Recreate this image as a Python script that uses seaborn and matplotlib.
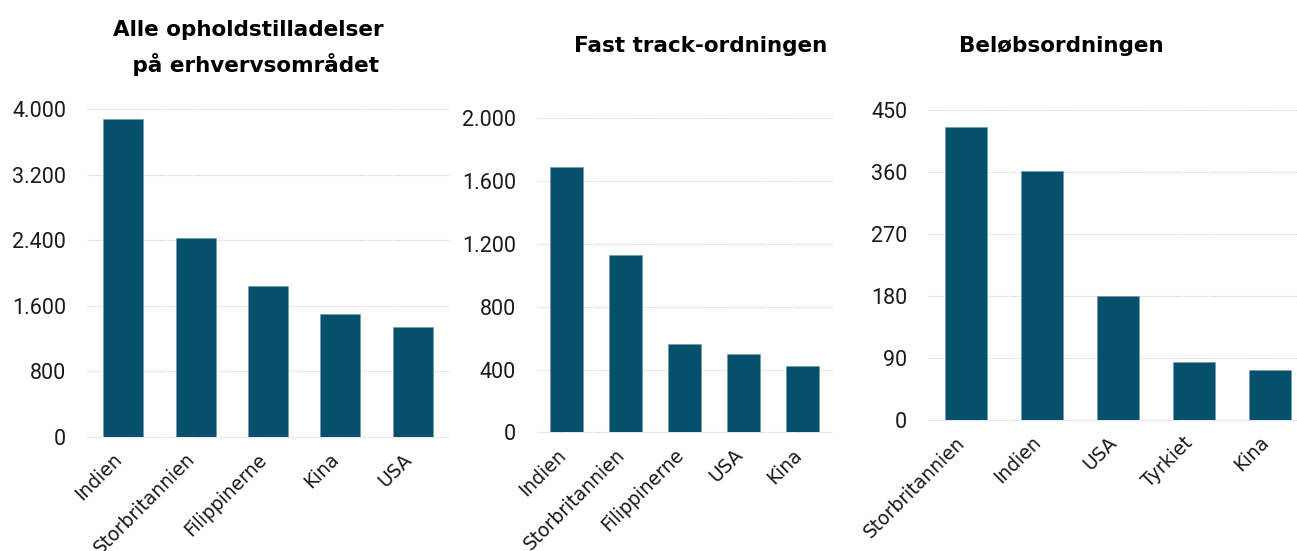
import matplotlib
matplotlib.use('Agg')
import matplotlib.pyplot as plt
import seaborn as sns
import pandas as pd
from matplotlib.ticker import FuncFormatter

# data
alle_lande = ['Indien', 'Storbritannien', 'Filippinerne', 'Kina', 'USA']
alle_vaerdi = [3885, 2430, 1840, 1505, 1335]

fast_lande = ['Indien', 'Storbritannien', 'Filippinerne', 'USA', 'Kina']
fast_vaerdi = [1690, 1127, 564, 499, 422]

beloeb_lande = ['Storbritannien', 'Indien', 'USA', 'Tyrkiet', 'Kina']
beloeb_vaerdi = [426, 362, 180, 84, 72]

titler = ['Alle opholdstilladelser', ' på erhvervsområdet',
          'Fast track-ordningen', 'Beløbsordningen']
yticks = [[0, 800, 1600, 2400, 3200, 4000],
          [0, 400, 800, 1200, 1600, 2000],
          [0, 90, 180, 270, 360, 450]]

sns.set_theme(style='white')
plt.rcParams['font.family'] = ['DejaVu Sans']

farve = '#07506b'
W, H = 1297, 551
fig = plt.figure(figsize=(W / 100, H / 100), dpi=100)

# axes boxes in pixels: left, right, bottom(y=0), top(y=max)
boxes = [(87, 449, 436.7, 109.3),
         (537, 832, 432.3, 118.3),
         (928, 1308, 420.0, 110.3)]
data = [(alle_lande, alle_vaerdi), (fast_lande, fast_vaerdi), (beloeb_lande, beloeb_vaerdi)]

dk = FuncFormatter(lambda v, p: f'{int(v):,}'.replace(',', '.'))

for (l, r, b, t), (lande, vaerdi), ticks in zip(boxes, data, yticks):
    ax = fig.add_axes([l / W, 1 - b / H, (r - l) / W, (b - t) / H])
    df = pd.DataFrame({'land': lande, 'antal': vaerdi})
    sns.barplot(data=df, x='land', y='antal', color=farve, saturation=1,
                width=0.55, edgecolor='#6d98a8', linewidth=0.4, ax=ax, zorder=3)
    ax.set_ylim(0, ticks[-1])
    ax.set_xlim(-0.5, 4.5)
    ax.set_yticks(ticks)
    ax.yaxis.set_major_formatter(dk)
    ax.grid(axis='y', color='#dadada', linestyle=(0, (1.5, 1)), linewidth=0.8, zorder=0)
    for gl in ax.get_ygridlines():
        gl.set_clip_on(False)
    ax.set_xlabel('')
    ax.set_ylabel('')
    sns.despine(ax=ax, left=True, bottom=True)
    ax.tick_params(axis='y', length=0, pad=15, labelsize=15.5)
    ax.tick_params(axis='x', length=0, pad=17, labelsize=13.5)
    for lab in ax.get_yticklabels():
        lab.set_fontfamily('Roboto')
        lab.set_color('#1a1a1a')
    for lab in ax.get_xticklabels():
        lab.set_rotation(45)
        lab.set_ha('right')
        lab.set_va('baseline')
        lab.set_rotation_mode('anchor')
        lab.set_color('#1a1a1a')

tkw = dict(ha='center', va='baseline', fontsize=15.5, fontweight='bold', color='black')
fig.text(248 / W, 1 - 36 / H, titler[0], **tkw)
fig.text(252 / W, 1 - 72 / H, titler[1], **tkw)
fig.text(701 / W, 1 - 52 / H, titler[2], **tkw)
fig.text(1061 / W, 1 - 52 / H, titler[3], **tkw)

fig.savefig('out.png', dpi=100)
